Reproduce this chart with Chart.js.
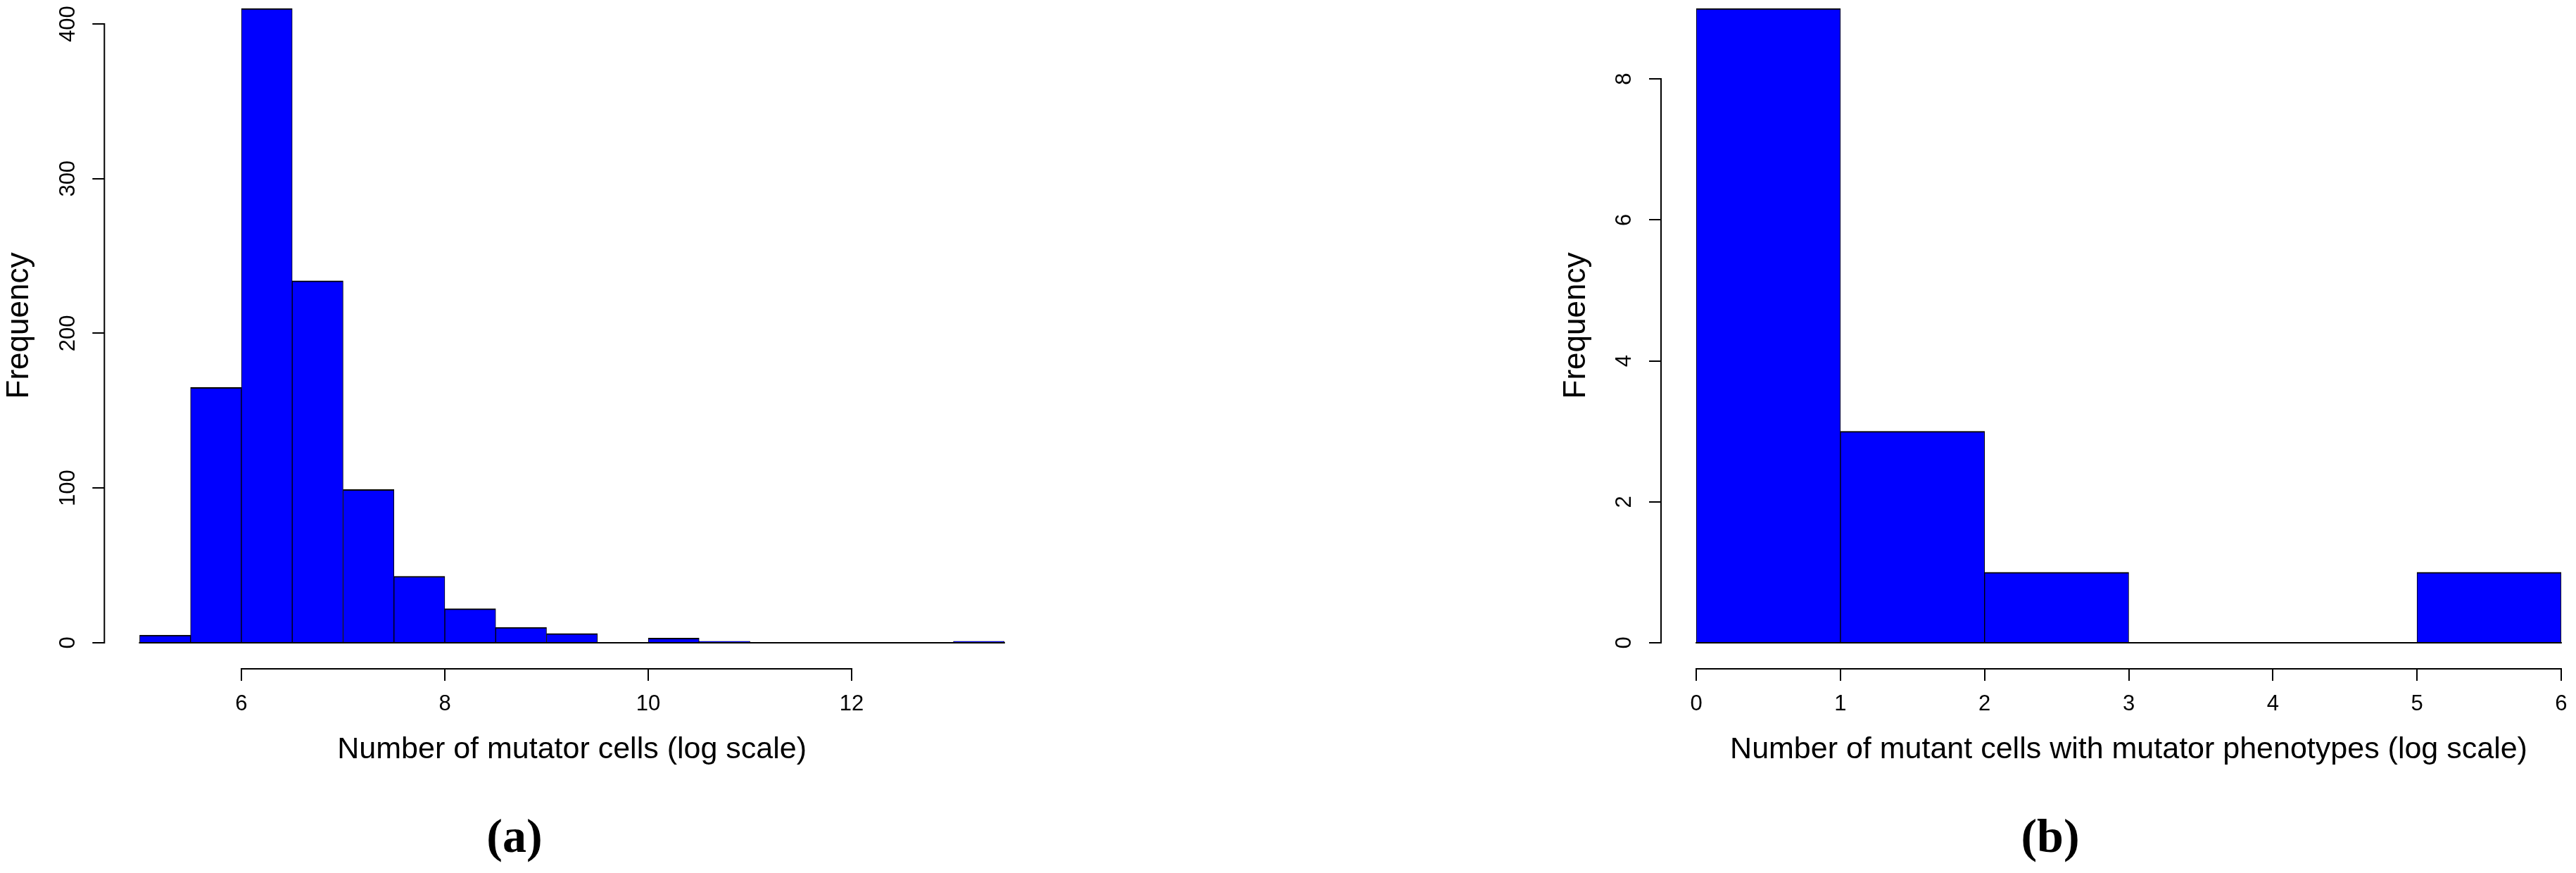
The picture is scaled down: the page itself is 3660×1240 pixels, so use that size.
<!DOCTYPE html>
<html><head><meta charset="utf-8">
<script src="https://cdn.jsdelivr.net/npm/chart.js@4/dist/chart.umd.min.js"></script>
<style>
html,body{margin:0;padding:0;background:#fff;width:3660px;height:1240px;overflow:hidden;position:relative}
.box{position:absolute}
.cap{position:absolute;font-family:"Liberation Serif","Times New Roman",serif;font-weight:bold;font-size:68px;line-height:68px;text-align:center;width:200px;color:#000}
</style></head><body>
<div class="box" style="left:0px;top:-24px;width:1476px;height:1115px"><canvas id="ca" width="1476" height="1115"></canvas></div>
<div class="box" style="left:2181px;top:-24px;width:1507px;height:1115px"><canvas id="cb" width="1507" height="1115"></canvas></div>
<div class="cap" style="left:631px;top:1153px">(a)</div>
<div class="cap" style="left:2813px;top:1153px">(b)</div>
<script>
// ---- data (a) ----
const leftBreaks = [5, 5.5, 6, 6.5, 7, 7.5, 8, 8.5, 9, 9.5, 10, 10.5, 11, 11.5, 12, 12.5, 13, 13.5];
const leftCounts = [5, 165, 410, 234, 99, 43, 22, 10, 6, 0, 3, 1, 0, 0, 0, 0, 1];
const leftXTicks = [6, 8, 10, 12];
const leftYTicks = [0, 100, 200, 300, 400];
const leftXTitle = 'Number of mutator cells (log scale)';
// ---- data (b) ----
const rightBreaks = [0, 1, 2, 3, 4, 5, 6];
const rightCounts = [9, 3, 1, 0, 0, 1];
const rightXTicks = [0, 1, 2, 3, 4, 5, 6];
const rightYTicks = [0, 2, 4, 6, 8];
const rightXTitle = 'Number of mutant cells with mutator phenotypes (log scale)';
const yTitle = 'Frequency';

const SANS = "'Liberation Sans', Arial, Helvetica, sans-serif";

const rAxes = {
  id: 'rAxes',
  afterDatasetsDraw(chart, args, opts) {
    const {ctx, scales: {x, y}} = chart;
    const b = opts.breaks;
    const y0 = y.getPixelForValue(0);
    ctx.save();
    ctx.strokeStyle = '#000'; ctx.lineWidth = 2;
    ctx.beginPath();
    ctx.moveTo(x.getPixelForValue(b[0]) - 1, y0);
    ctx.lineTo(x.getPixelForValue(b[b.length - 1]) + 1, y0);
    ctx.stroke();
    ctx.restore();
  },
  afterDraw(chart, args, opts) {
    const {ctx, chartArea, scales: {x, y}} = chart;
    const xt = opts.xTicks, yt = opts.yTicks;
    ctx.save();
    ctx.strokeStyle = '#000'; ctx.lineWidth = 2;
    ctx.beginPath();
    const by = chartArea.bottom + 1;
    ctx.moveTo(x.getPixelForValue(xt[0]) - 1, by);
    ctx.lineTo(x.getPixelForValue(xt[xt.length - 1]) + 1, by);
    const lx = chartArea.left - 1;
    ctx.moveTo(lx, y.getPixelForValue(yt[0]) + 1);
    ctx.lineTo(lx, y.getPixelForValue(yt[yt.length - 1]) - 1);
    ctx.stroke();
    ctx.restore();
  }
};

function makeHist(id, breaks, counts, xTicks, yTicks, xTitle, yAxisWidth, yTitlePad, yTickPad) {
  const maxC = Math.max(...counts);
  const lo = breaks[0], hi = breaks[breaks.length - 1];
  const xr = hi - lo;
  const pts = counts.map((c, i) => ({x: (breaks[i] + breaks[i + 1]) / 2, y: c}));
  const gridOpts = {offset: false, drawOnChartArea: false, drawTicks: true, tickLength: 18, color: '#000', lineWidth: 2};
  return new Chart(document.getElementById(id), {
    type: 'bar',
    data: {datasets: [{
      data: pts,
      backgroundColor: '#0000ff',
      borderColor: '#000',
      borderWidth: {top: 2, left: 1, right: 1, bottom: 0},
      borderSkipped: false,
      barPercentage: 1,
      categoryPercentage: 1
    }]},
    options: {
      responsive: false, animation: false, devicePixelRatio: 1,
      layout: {padding: 0},
      plugins: {legend: {display: false}, tooltip: {enabled: false}, title: {display: false},
        rAxes: {breaks: breaks, xTicks: xTicks, yTicks: yTicks}},
      scales: {
        x: {
          type: 'linear', offset: false,
          min: lo - 0.04 * xr, max: hi + 0.04 * xr,
          afterBuildTicks: s => { s.ticks = xTicks.map(v => ({value: v})); },
          afterFit: s => { s.height = 142; s.paddingLeft = 0; s.paddingRight = 0; },
          grid: gridOpts,
          border: {display: false},
          ticks: {autoSkip: false, minRotation: 0, maxRotation: 0, color: '#000', padding: 15,
                  font: {family: SANS, size: 31}, callback: v => String(v)},
          title: {display: true, text: xTitle, color: '#000', padding: 0, font: {family: SANS, size: 43}}
        },
        y: {
          type: 'linear',
          min: -0.04 * maxC, max: 1.04 * maxC,
          afterBuildTicks: s => { s.ticks = yTicks.map(v => ({value: v})); },
          afterFit: s => { s.width = yAxisWidth; s.paddingTop = 0; s.paddingBottom = 0; },
          grid: gridOpts,
          border: {display: false},
          ticks: {autoSkip: false, minRotation: 90, maxRotation: 90, crossAlign: 'center', color: '#000',
                  padding: yTickPad, font: {family: SANS, size: 31}, callback: v => String(v)},
          title: {display: true, text: yTitle, color: '#000', padding: {top: yTitlePad, bottom: 0},
                  font: {family: SANS, size: 44}}
        }
      }
    },
    plugins: [rAxes]
  });
}

makeHist('ca', leftBreaks, leftCounts, leftXTicks, leftYTicks, leftXTitle, 149.3, 1.1, 8);
makeHist('cb', rightBreaks, rightCounts, rightXTicks, rightYTicks, rightXTitle, 180, 32.6, 26);
</script>
</body></html>
